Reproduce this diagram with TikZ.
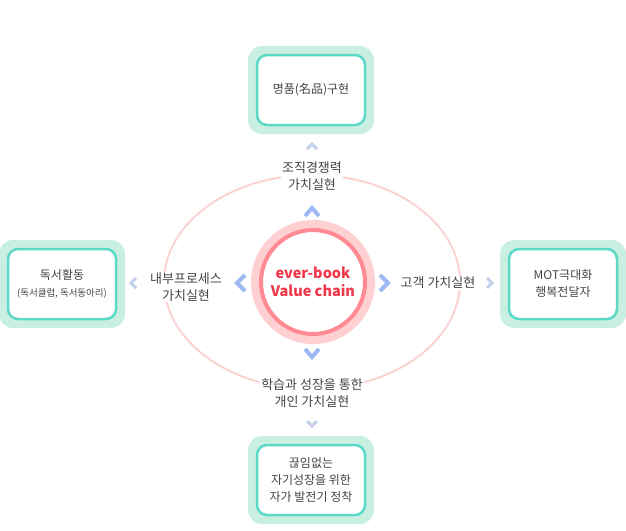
\documentclass[tikz,border=0pt]{standalone}
\usepackage{fontspec}
\setmainfont{Noto Sans CJK KR}
\begin{document}
\begin{tikzpicture}[x=1pt,y=-1pt,
  outerbox/.style={fill=mint,rounded corners=14pt,minimum width=126pt,minimum height=88pt},
  innerbox/.style={draw=teal1,line width=2.5pt,fill=white,rounded corners=10pt,minimum width=108pt,minimum height=70pt,align=center,font=\fontsize{12}{17}\selectfont,text=txt},
  lab/.style={align=center,font=\fontsize{13}{17}\selectfont,text=txt,fill=white,inner sep=1pt},
  chev/.style={draw=chevblue,line width=4pt,line cap=butt,line join=miter},
  chevl/.style={draw=chevlight,line width=3pt,line join=miter}]
\definecolor{mint}{HTML}{C9EFE3}
\definecolor{teal1}{HTML}{5CD9C6}
\definecolor{txt}{HTML}{444444}
\definecolor{chevblue}{HTML}{9DB8F3}
\definecolor{chevlight}{HTML}{C3D0EA}
\definecolor{ringpink}{HTML}{FFD0D2}
\definecolor{ringred}{HTML}{FF8A92}
\definecolor{ellpink}{HTML}{FBD3D3}
\definecolor{ctext}{HTML}{F0384A}
\useasboundingbox (0,0) rectangle (626,530);
\draw[ellpink,line width=2pt] (312,282) ellipse (148 and 107);
\node[circle,fill=ringpink,minimum size=124pt] (c0) at (313,282) {};
\node[circle,draw=ringred,line width=4pt,fill=white,minimum size=104pt,align=center,text=ctext,font=\bfseries\fontsize{14.5}{18}\selectfont,inner sep=0pt] (c) at (313,282) {ever-book\\Value chain};
% boxes
\node[outerbox] (to) at (311,90) {};
\node[innerbox] (t) at (311,90) {명품(名品)구현};
\node[outerbox] (lo) at (62,284) {};
\node[innerbox] (l) at (62,284) {독서활동\\{\fontsize{9.5}{13}\selectfont (독서클럽, 독서동아리)}};
\node[outerbox] (ro) at (563,284) {};
\node[innerbox] (r) at (563,284) {MOT극대화\\행복전달자};
\node[outerbox] (bo) at (311,480) {};
\node[innerbox] (b) at (311,480) {끊임없는\\자기성장을 위한\\자가 발전기 정착};
% labels
\node[lab] (lt) at (312,176) {조직경쟁력\\가치실현};
\node[lab] (ll) at (186,287) {내부프로세스\\가치실현};
\node[lab] (lr) at (438,283) {고객 가치실현};
\node[lab] (lb) at (312,393) {학습과 성장을 통한\\개인 가치실현};
% chevrons
\draw[chev] (305,216) -- (312,208) -- (319,216);
\draw[chev] (305,349) -- (312,357) -- (319,349);
\draw[chev] (245,275) -- (237,283) -- (245,291);
\draw[chev] (380,275) -- (388,283) -- (380,291);
\draw[chevl] (307,149) -- (312,144) -- (317,149);
\draw[chevl] (307,421) -- (312,426) -- (317,421);
\draw[chevl] (136,278) -- (131,283) -- (136,288);
\draw[chevl] (487,278) -- (492,283) -- (487,288);
\end{tikzpicture}
\end{document}
